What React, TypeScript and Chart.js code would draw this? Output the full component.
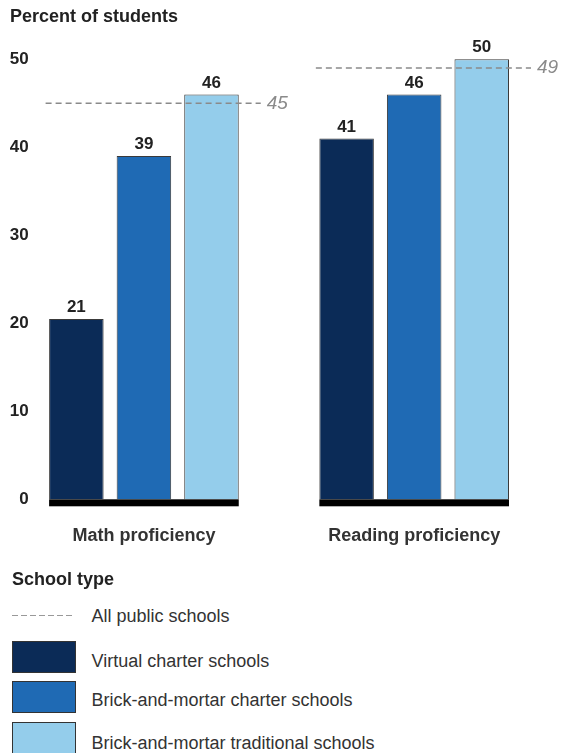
import React, { useEffect, useRef } from "react";
import { Chart, registerables } from "chart.js";

Chart.register(...registerables);

const categories = ["Math proficiency", "Reading proficiency"];
const schoolTypes = [
  "Virtual charter schools",
  "Brick-and-mortar charter schools",
  "Brick-and-mortar traditional schools",
];
const virtualCharter = [20.5, 41];
const brickCharter = [39, 46];
const brickTraditional = [46, 50];
const allPublic = [45, 49];
const yTicks = [0, 10, 20, 30, 40, 50];

const FONT = "'Liberation Sans', Arial, Helvetica, sans-serif";
const barColors = ["#0b2b57", "#1f6ab4", "#94cdeb"];

const overlayPlugin = {
  id: "overlay",
  afterDatasetsDraw(chart: any) {
    const ctx = chart.ctx;
    const ys = chart.scales.y;
    const m0 = chart.getDatasetMeta(0);
    const m2 = chart.getDatasetMeta(2);
    const y0 = ys.getPixelForValue(0);
    categories.forEach((_, i) => {
      const b0 = m0.data[i];
      const b2 = m2.data[i];
      const left = b0.x - b0.width / 2;
      const right = b2.x + b2.width / 2;
      ctx.save();
      ctx.fillStyle = "#000";
      ctx.fillRect(left, y0, right - left, 7);
      const yl = ys.getPixelForValue(allPublic[i]);
      ctx.strokeStyle = "#8a8a8a";
      ctx.lineWidth = 1.5;
      ctx.setLineDash([6, 4]);
      ctx.beginPath();
      ctx.moveTo(left - 3.5, yl);
      ctx.lineTo(right + 22, yl);
      ctx.stroke();
      ctx.setLineDash([]);
      ctx.font = `italic 19px ${FONT}`;
      ctx.fillStyle = "#8a8a8a";
      ctx.textAlign = "left";
      ctx.textBaseline = "middle";
      ctx.fillText(String(allPublic[i]), right + 28, yl);
      ctx.restore();
    });
    ctx.save();
    ctx.font = `bold 17px ${FONT}`;
    ctx.fillStyle = "#222";
    ctx.textAlign = "center";
    ctx.textBaseline = "alphabetic";
    chart.data.datasets.forEach((ds: any, di: number) => {
      const meta = chart.getDatasetMeta(di);
      meta.data.forEach((bar: any, i: number) => {
        ctx.fillText(String(Math.round(ds.data[i])), bar.x, bar.y - 7);
      });
    });
    ctx.restore();
  },
};

function ChartCanvas() {
  const ref = useRef<HTMLCanvasElement | null>(null);
  useEffect(() => {
    if (!ref.current) return;
    const series = [virtualCharter, brickCharter, brickTraditional];
    const chart = new Chart(ref.current, {
      type: "bar",
      data: {
        labels: categories,
        datasets: series.map((d, i) => ({
          label: schoolTypes[i],
          data: d,
          backgroundColor: barColors[i],
          borderColor: "#3a3a3a",
          borderWidth: 1,
          categoryPercentage: 0.75,
          barPercentage: 0.807,
          clip: false as any,
        })),
      },
      options: {
        responsive: false,
        animation: false,
        devicePixelRatio: 1,
        layout: { padding: { left: 6.8, right: 11.7, top: 59.3, bottom: 27.1 } },
        plugins: {
          legend: { display: false },
          tooltip: { enabled: false },
          title: { display: false },
        },
        scales: {
          x: {
            grid: { display: false, drawTicks: false },
            border: { display: false },
            ticks: {
              padding: 26,
              color: "#333",
              font: { family: FONT, size: 18, weight: "bold" },
            },
          },
          y: {
            min: 0,
            max: 50,
            grid: { display: false, drawTicks: false },
            border: { display: false },
            afterBuildTicks: (axis: any) => {
              axis.ticks = yTicks.map((v) => ({ value: v }));
            },
            ticks: {
              mirror: true,
              crossAlign: "far",
              padding: 1,
              color: "#222",
              font: { family: FONT, size: 17, weight: "bold" },
            },
          },
        },
      },
      plugins: [overlayPlugin],
    });
    return () => chart.destroy();
  }, []);
  return (
    <canvas
      ref={ref}
      width={561}
      height={600}
      style={{ position: "absolute", left: 0, top: 0, width: 561, height: 600 }}
    />
  );
}

const textStyle: React.CSSProperties = {
  position: "absolute",
  fontFamily: FONT,
  fontSize: 18,
  lineHeight: "20px",
  whiteSpace: "nowrap",
  color: "#333",
};

export default function App() {
  const rowTops = [640.5, 681, 722];
  const textTops = [651, 690, 733];
  return (
    <div
      style={{
        position: "absolute",
        left: 0,
        top: 0,
        width: 561,
        height: 753,
        background: "#fff",
        overflow: "hidden",
      }}
    >
      <ChartCanvas />
      <div style={{ ...textStyle, left: 10, top: 6, fontWeight: "bold", color: "#222" }}>
        Percent of students
      </div>
      <div style={{ ...textStyle, left: 12, top: 569, fontWeight: "bold", color: "#222" }}>
        School type
      </div>
      <div
        style={{
          position: "absolute",
          left: 12,
          top: 614.5,
          width: 63,
          height: 1.5,
          background: "repeating-linear-gradient(to right, #999 0 6px, transparent 6px 9px)",
        }}
      />
      <div style={{ ...textStyle, left: 91.5, top: 605.5 }}>All public schools</div>
      {schoolTypes.map((name, i) => (
        <React.Fragment key={name}>
          <div
            style={{
              position: "absolute",
              left: 12,
              top: rowTops[i],
              width: 62,
              height: 30,
              background: barColors[i],
              border: "1.5px solid #333",
            }}
          />
          <div style={{ ...textStyle, left: 91.5, top: textTops[i] }}>{name}</div>
        </React.Fragment>
      ))}
    </div>
  );
}
